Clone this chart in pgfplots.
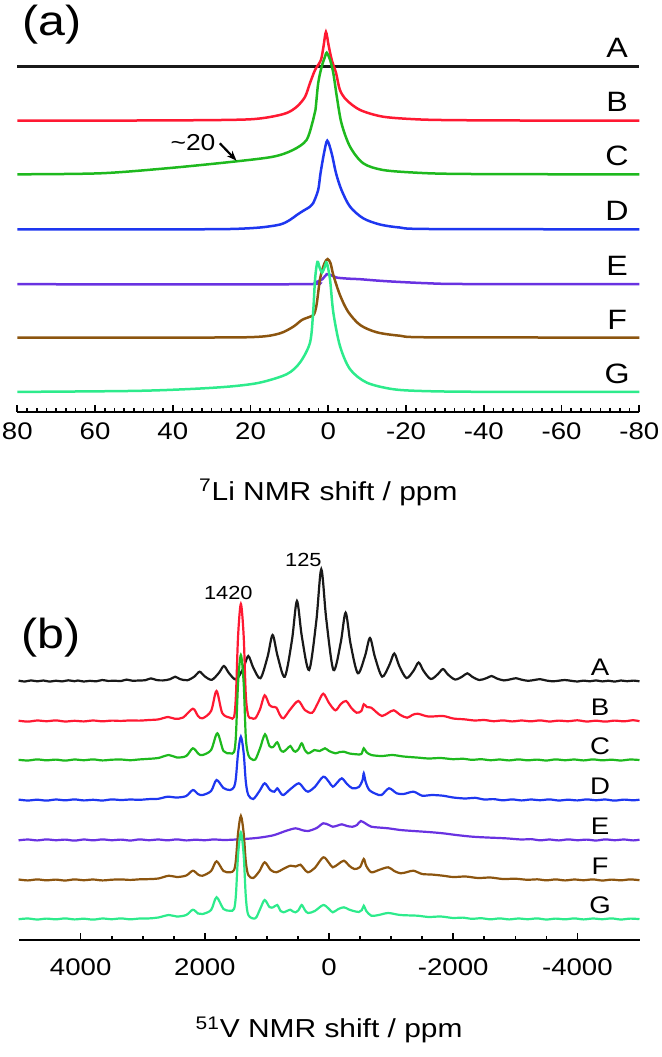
\documentclass[border=0pt]{standalone}
\usepackage{fontspec}
\setmainfont{Liberation Sans}[FakeStretch=1.15]
\usepackage{pgfplots}
\usepackage{pgfplotstable}
\pgfplotsset{compat=1.18}
\usetikzlibrary{arrows.meta}

\definecolor{cA}{RGB}{25,25,25}
\definecolor{cB}{RGB}{255,25,50}
\definecolor{cC}{RGB}{30,185,30}
\definecolor{cD}{RGB}{30,55,240}
\definecolor{cE}{RGB}{105,50,225}
\definecolor{cF}{RGB}{140,85,15}
\definecolor{cG}{RGB}{45,235,140}

% ---- 7Li spectra: ppm, height (px above own baseline)
\pgfplotstableread[row sep=\\]{x y\\ 80 0\\ -80 0\\}\liA
\pgfplotstableread[row sep=\\]{x y\\ 80 0\\ 50 0.2\\ 30 0.6\\ 20.1 1.4\\ 15 3.7\\ 10.7 7.7\\ 8.1 14\\ 6 23.7\\ 4.7 37.7\\ 3.4 50.7\\ 1.9 60.7\\ 1.2 75\\ 0.6 88.7\\ -0.1 75\\ -0.9 60.7\\ -2.0 47.7\\ -3.0 30.7\\ -4.7 20.7\\ -8.2 10.7\\ -14.1 4\\ -22.7 1.4\\ -31.3 0.6\\ -50 0.2\\ -80 0\\}\liB
\pgfplotstableread[row sep=\\]{x y\\ 80 0\\ 58.7 1\\ 41.6 6\\ 24.5 12.6\\ 14.2 17.6\\ 9.1 24.3\\ 5.6 34.3\\ 3.9 54.3\\ 3.3 64.3\\ 2.6 91\\ 1.7 107.6\\ 0.8 118\\ 0.4 121.6\\ -0.5 114\\ -1.3 101\\ -2.2 77.6\\ -3.4 51\\ -5.6 27.6\\ -9.0 11\\ -14.1 4.3\\ -22.7 1.6\\ -31.3 0.5\\ -50 0.1\\ -80 0\\}\liC
\pgfplotstableread[row sep=\\]{x y\\ 80 0\\ 40 0\\ 25.3 0.3\\ 17.6 1.8\\ 12.4 4.8\\ 9.9 9.3\\ 8.1 14.3\\ 6.4 18.6\\ 4.7 22.6\\ 3.9 26\\ 2.6 39.3\\ 2.0 56\\ 1.1 76\\ 0.26 88.6\\ -0.87 76\\ -2.0 56\\ -3.4 39.3\\ -5.6 22.6\\ -9.0 11\\ -13.3 4.8\\ -18.4 1.8\\ -26.2 0.3\\ -80 0\\}\liD
\pgfplotstableread[row sep=\\]{x y\\ 80 0\\ 8 0\\ 3.4 2\\ 1.5 5\\ 0.4 10\\ -1 8.5\\ -2.2 6.6\\ -5 5.6\\ -8.2 5\\ -12 3.8\\ -16.7 2.6\\ -25.3 1\\ -35 0.2\\ -80 0\\}\liE
\pgfplotstableread[row sep=\\]{x y\\ 80 0\\ 30 0\\ 17.6 0.8\\ 12.4 4.2\\ 9.0 10.8\\ 6.8 17.5\\ 4.7 20.8\\ 3.7 23\\ 3.0 33\\ 2.1 59\\ 1.0 74\\ 0.15 78.5\\ -0.6 74\\ -1.3 62.5\\ -3.0 42.5\\ -5.1 25.8\\ -8.2 12.5\\ -12.5 5.2\\ -18.4 1.8\\ -26.2 0.2\\ -80 0\\}\liF
\pgfplotstableread[row sep=\\]{x y\\ 80 0\\ 50 1\\ 35 3\\ 25 5.5\\ 17.6 9.3\\ 10.7 17.7\\ 7.3 29.3\\ 4.7 49.3\\ 3.9 79.3\\ 3.4 112.7\\ 2.8 130\\ 2.2 124\\ 1.6 119.3\\ 0.9 125\\ 0.4 129.3\\ -0.44 112.7\\ -1.3 79.3\\ -3.0 46\\ -5.6 22.7\\ -9.9 9.3\\ -16.7 2.7\\ -25 0.8\\ -40 0.1\\ -80 0\\}\liG

% ---- 51V spectra: ppm, height (px above own baseline)
\pgfplotstableread[row sep=\\]{x y\\
5000 0.4\\ 4900 -0.5\\ 4800 0.6\\ 4700 -0.3\\ 4600 0.5\\ 4500 -0.6\\ 4400 0.3\\ 4300 -0.4\\ 4200 0.7\\ 4100 -0.2\\ 4045 0.5\\ 3950 -0.5\\ 3850 0.2\\ 3750 -0.3\\ 3653 1.0\\ 3560 0.1\\ 3457 0.3\\ 3350 0.0\\ 3261 1.4\\ 3170 0.3\\ 3065 0.5\\ 2960 0.8\\ 2869 2.6\\ 2780 1.0\\ 2673 0.6\\ 2560 1.8\\ 2477 4.3\\ 2400 1.9\\ 2281 0.8\\ 2165 4.6\\ 2085 9.3\\ 2005 4.8\\ 1889 1.2\\ 1773 8.2\\ 1693 15\\ 1613 8\\ 1497 1.5\\ 1381 12.8\\ 1301 25\\ 1221 13.4\\ 1105 2.8\\ 989 24.5\\ 909 46\\ 829 25\\ 713 4.3\\ 597 41\\ 517 80\\ 437 44\\ 321 11\\ 205 60\\ 125 111.7\\ 45 62\\ -71 11\\ -187 38\\ -267 68.3\\ -347 37\\ -463 7.8\\ -579 25\\ -659 43\\ -739 24\\ -855 4.4\\ -971 16\\ -1051 27.5\\ -1131 15\\ -1247 3\\ -1363 10.5\\ -1443 18.5\\ -1523 10\\ -1639 2\\ -1755 7\\ -1835 12\\ -1915 6.5\\ -2031 1.5\\ -2147 4.5\\ -2227 7.7\\ -2307 4.2\\ -2423 1.0\\ -2540 3\\ -2619 5\\ -2700 2.6\\ -2815 0.6\\ -2930 1.8\\ -3011 2.8\\ -3090 1.5\\ -3207 0.2\\ -3320 1.2\\ -3403 1.8\\ -3490 0.6\\ -3600 -0.3\\ -3700 0.3\\ -3795 1.0\\ -3900 0.2\\ -4000 -0.5\\ -4100 0.4\\ -4200 -0.3\\ -4300 0.6\\ -4400 -0.4\\ -4500 0.3\\ -4600 -0.6\\ -4700 0.5\\ -4800 -0.2\\ -4900 0.4\\ -5000 -0.3\\}\vA
\pgfplotstableread[row sep=\\]{x y\\
5000 0.3\\ 4850 -0.6\\ 4700 0.5\\ 4550 -0.2\\ 4400 0.6\\ 4250 -0.5\\ 4100 0.2\\ 3950 -0.4\\ 3800 0.5\\ 3650 -0.3\\ 3500 0.4\\ 3350 0.1\\ 3200 0.6\\ 3050 0.4\\ 2900 1.0\\ 2750 1.6\\ 2593 4\\ 2480 2.2\\ 2350 3.5\\ 2193 12.3\\ 2110 5\\ 2037 2.7\\ 1900 10\\ 1812 30\\ 1720 8\\ 1594 3.3\\ 1530 4\\ 1500 25\\ 1465 85\\ 1420 117\\ 1375 85\\ 1340 25\\ 1300 5\\ 1250 3\\ 1187 2.7\\ 1110 12\\ 1037 25.7\\ 960 16\\ 900 14\\ 847 13.3\\ 790 6\\ 733 2.7\\ 620 12\\ 494 20\\ 390 11\\ 271 8.3\\ 180 18\\ 93 27.3\\ 0 18\\ -103 10.7\\ -190 17\\ -274 20\\ -360 13\\ -443 8.3\\ -520 10\\ -559 16.7\\ -610 14\\ -681 13.3\\ -760 9\\ -852 5\\ -950 8\\ -1042 10.7\\ -1150 6\\ -1259 3.3\\ -1340 6\\ -1428 7.3\\ -1600 4.5\\ -1836 5\\ -2000 2.5\\ -2176 1.7\\ -2350 0.5\\ -2500 1.0\\ -2650 -0.2\\ -2800 0.6\\ -2950 -0.4\\ -3100 0.5\\ -3250 -0.3\\ -3400 0.6\\ -3550 -0.5\\ -3700 0.4\\ -3850 -0.2\\ -4000 0.7\\ -4150 -0.5\\ -4300 0.3\\ -4450 -0.6\\ -4600 0.4\\ -4750 -0.3\\ -4900 0.8\\ -5000 -0.2\\}\vB
\pgfplotstableread[row sep=\\]{x y\\
5000 0.2\\ 4850 -0.5\\ 4700 0.6\\ 4550 -0.3\\ 4400 0.4\\ 4250 -0.6\\ 4100 0.5\\ 3950 -0.2\\ 3800 0.6\\ 3650 -0.4\\ 3500 0.3\\ 3350 0.5\\ 3200 -0.2\\ 3050 0.6\\ 2900 1.2\\ 2750 2\\ 2580 5\\ 2450 2.5\\ 2300 4\\ 2193 11.7\\ 2100 6\\ 2037 5\\ 1900 10\\ 1799 26.7\\ 1700 9\\ 1594 6.7\\ 1530 8\\ 1500 24\\ 1465 77\\ 1420 105\\ 1375 77\\ 1340 22\\ 1300 5\\ 1250 1\\ 1187 0.5\\ 1110 12\\ 1031 25.7\\ 960 14\\ 900 13\\ 834 17.7\\ 780 10\\ 733 8.3\\ 680 11\\ 623 14\\ 580 10\\ 541 8.3\\ 490 11\\ 440 16.7\\ 390 10\\ 338 6.7\\ 290 8\\ 237 10\\ 150 9\\ 66 11.7\\ 0 9\\ -103 6.7\\ -170 8\\ -240 8.3\\ -330 6.5\\ -443 5.7\\ -520 6\\ -559 11.7\\ -600 8\\ -681 5\\ -850 4\\ -1021 5\\ -1200 3.5\\ -1451 2.3\\ -1600 1.5\\ -1800 2\\ -2000 0.8\\ -2150 1.3\\ -2300 0.2\\ -2450 0.8\\ -2600 -0.2\\ -2750 0.5\\ -2900 -0.4\\ -3050 0.6\\ -3200 -0.3\\ -3350 0.4\\ -3500 -0.5\\ -3650 0.6\\ -3800 -0.2\\ -3950 0.5\\ -4100 -0.4\\ -4250 0.6\\ -4400 -0.3\\ -4550 0.3\\ -4700 -0.5\\ -4850 0.5\\ -5000 0\\}\vC
\pgfplotstableread[row sep=\\]{x y\\
5000 0.4\\ 4850 -0.5\\ 4700 0.3\\ 4550 -0.6\\ 4400 0.5\\ 4250 -0.3\\ 4100 0.6\\ 3950 -0.4\\ 3800 0.2\\ 3650 -0.5\\ 3500 0.6\\ 3350 0.0\\ 3200 0.5\\ 3050 0.2\\ 2900 0.9\\ 2750 1.2\\ 2600 3.3\\ 2450 2.5\\ 2300 4\\ 2193 10\\ 2110 6\\ 2037 5\\ 1900 9\\ 1812 20\\ 1700 12\\ 1594 10\\ 1530 13\\ 1500 22\\ 1465 47\\ 1420 63.3\\ 1375 47\\ 1340 18\\ 1300 5\\ 1221 1\\ 1120 9\\ 1037 16.7\\ 950 10\\ 880 8.3\\ 834 11.7\\ 780 7\\ 733 5\\ 620 11\\ 488 16.7\\ 400 11\\ 338 8.3\\ 230 13\\ 93 23.3\\ 0 18\\ -61 13.3\\ -140 18\\ -206 21.7\\ -290 16\\ -377 11.7\\ -480 13\\ -540 20\\ -559 26.7\\ -590 18\\ -648 10\\ -760 6\\ -846 5\\ -966 11.7\\ -1090 6.7\\ -1200 6\\ -1361 8.3\\ -1500 4.3\\ -1650 5\\ -1836 4.3\\ -2000 2.5\\ -2200 1.5\\ -2350 2.2\\ -2500 0.5\\ -2650 0.9\\ -2800 -0.3\\ -2950 0.6\\ -3100 -0.4\\ -3250 0.5\\ -3400 -0.2\\ -3550 0.6\\ -3700 -0.5\\ -3850 0.3\\ -4000 -0.4\\ -4150 0.6\\ -4300 -0.2\\ -4450 0.5\\ -4600 -0.6\\ -4750 0.4\\ -4900 -0.3\\ -5000 0.3\\}\vD
\pgfplotstableread[row sep=\\]{x y\\
5000 -0.3\\ 4850 0.5\\ 4700 -0.4\\ 4550 0.6\\ 4400 -0.2\\ 4250 0.4\\ 4100 -0.6\\ 3950 0.5\\ 3800 -0.3\\ 3650 0.6\\ 3500 -0.2\\ 3350 0.4\\ 3200 -0.5\\ 3050 0.6\\ 2900 -0.2\\ 2750 0.5\\ 2600 -0.3\\ 2450 0.6\\ 2300 -0.4\\ 2150 0.3\\ 2000 -0.2\\ 1850 0.6\\ 1700 0.0\\ 1500 0.5\\ 1221 1.7\\ 1050 3\\ 881 5\\ 700 9\\ 541 11.7\\ 440 10\\ 338 9\\ 200 12\\ 93 16.7\\ 0 15\\ -61 13.3\\ -140 14.5\\ -206 15.7\\ -290 14\\ -377 13.3\\ -450 15\\ -512 19\\ -600 16\\ -681 13.3\\ -800 12.5\\ -953 11.7\\ -1150 10\\ -1361 9\\ -1600 8\\ -1836 6.7\\ -2050 5\\ -2312 3.3\\ -2550 2.5\\ -2845 1.7\\ -3100 0.5\\ -3250 0.9\\ -3400 -0.3\\ -3550 0.5\\ -3700 -0.4\\ -3850 0.6\\ -4000 -0.2\\ -4150 0.4\\ -4300 -0.5\\ -4450 0.6\\ -4600 -0.2\\ -4750 0.5\\ -4900 -0.4\\ -5000 0.3\\}\vE
\pgfplotstableread[row sep=\\]{x y\\
5000 0.5\\ 4850 -0.4\\ 4700 0.6\\ 4550 -0.3\\ 4400 0.4\\ 4250 -0.5\\ 4100 0.6\\ 3950 -0.2\\ 3800 0.5\\ 3650 -0.4\\ 3500 0.3\\ 3350 0.6\\ 3200 0.1\\ 3050 0.7\\ 2900 0.9\\ 2750 1.5\\ 2580 4.3\\ 2450 3\\ 2300 4.5\\ 2193 9.3\\ 2110 5.5\\ 2037 4.3\\ 1900 9\\ 1812 18.7\\ 1700 9\\ 1594 7.7\\ 1530 10\\ 1500 20\\ 1465 47\\ 1420 64\\ 1375 47\\ 1340 18\\ 1300 5\\ 1221 2\\ 1120 9\\ 1037 17.7\\ 940 10\\ 847 7.7\\ 740 11\\ 623 14.3\\ 540 13.5\\ 461 15.3\\ 400 11\\ 338 7.7\\ 230 12\\ 93 22.7\\ 0 17\\ -61 12.7\\ -150 16\\ -240 19.3\\ -330 14\\ -410 11\\ -500 13\\ -559 21\\ -600 14\\ -681 7.7\\ -800 10\\ -953 12.7\\ -1050 9\\ -1154 6.7\\ -1260 8\\ -1361 9.3\\ -1500 6\\ -1650 5.5\\ -1836 4.3\\ -2000 3\\ -2200 3.5\\ -2400 2\\ -2600 2.5\\ -2800 1.0\\ -3000 1.3\\ -3200 0.2\\ -3350 0.7\\ -3500 -0.3\\ -3650 0.6\\ -3800 -0.4\\ -3950 0.5\\ -4100 -0.2\\ -4250 0.6\\ -4400 -0.5\\ -4550 0.4\\ -4700 -0.3\\ -4850 0.6\\ -5000 -0.2\\}\vF
\pgfplotstableread[row sep=\\]{x y\\
5000 -0.2\\ 4850 0.5\\ 4700 -0.5\\ 4550 0.4\\ 4400 -0.3\\ 4250 0.6\\ 4100 -0.4\\ 3950 0.3\\ 3800 -0.6\\ 3650 0.5\\ 3500 -0.2\\ 3350 0.6\\ 3200 -0.3\\ 3050 0.5\\ 2900 0.6\\ 2750 1.5\\ 2580 4\\ 2450 2.5\\ 2300 4\\ 2193 9.3\\ 2110 5.5\\ 2037 5\\ 1900 9\\ 1812 21.7\\ 1700 10\\ 1594 8.3\\ 1530 10\\ 1500 24\\ 1465 64\\ 1420 86.7\\ 1375 64\\ 1340 22\\ 1300 4\\ 1187 0.7\\ 1110 10\\ 1037 19\\ 960 12\\ 900 11.7\\ 834 14\\ 780 8\\ 733 6.7\\ 680 8\\ 623 9.3\\ 580 7.5\\ 541 6.7\\ 490 9\\ 440 14\\ 390 9\\ 338 6\\ 230 8\\ 93 14\\ 0 10\\ -61 6.7\\ -150 10\\ -240 11.7\\ -320 9.5\\ -377 8.3\\ -480 7\\ -530 9\\ -559 13.3\\ -600 8\\ -681 3.3\\ -800 4\\ -953 6\\ -1150 4\\ -1428 3.3\\ -1600 2\\ -1800 2.5\\ -2000 1\\ -2150 1.4\\ -2300 0.2\\ -2450 0.8\\ -2600 -0.3\\ -2750 0.6\\ -2900 -0.4\\ -3050 0.5\\ -3200 -0.2\\ -3350 0.6\\ -3500 -0.5\\ -3650 0.4\\ -3800 -0.3\\ -3950 0.6\\ -4100 -0.4\\ -4250 0.5\\ -4400 -0.2\\ -4550 0.6\\ -4700 -0.5\\ -4850 0.4\\ -5000 -0.1\\}\vG

\pgfplotsset{
  nmr/.style={
    scale only axis, anchor=south west, clip=false,
    x dir=reverse, ymin=0,
    axis x line=bottom, axis y line=none, ytick=\empty,
    x axis line style={-, line width=0.9pt},
    xtick align=inside,
    major tick length=3.5pt, minor tick length=1.8pt,
    every tick/.style={black, line width=0.8pt},
    tick label style={font=\fontsize{12}{14}\selectfont},
    /pgf/number format/assume math mode=true,
    /pgf/number format/1000 sep={},
    xlabel style={font=\fontsize{13}{15}\selectfont, at={(axis description cs:0.5,0)}, anchor=center},
  },
  tr/.style={line width=1.25pt, smooth, tension=0.5},
  trb/.style={line width=1.1pt, smooth, tension=0.5},
}
\tikzset{
  lab/.style={font=\fontsize{14}{16}\selectfont},
  labb/.style={font=\fontsize{12}{14}\selectfont},
}

\begin{document}
\begin{tikzpicture}
\path[use as bounding box] (0pt,0pt) rectangle (330.5pt,-528.5pt);

% (a) 7Li
\begin{axis}[nmr, at={(8.65pt,-205.85pt)}, width=311pt, height=190.85pt,
  xmin=-80, xmax=80, ymax=381.7,
  xtick={-80,-60,-40,-20,0,20,40,60,80}, minor x tick num=7,
  xticklabel style={yshift=-2.2pt},
  xlabel={\textsuperscript{7}Li NMR shift / ppm},
  xlabel style={yshift=-40.5pt}]
\addplot[tr, cA] table[x=x, y expr=\thisrow{y}+345] {\liA};
\addplot[tr, cB] table[x=x, y expr=\thisrow{y}+291] {\liB};
\addplot[tr, cC] table[x=x, y expr=\thisrow{y}+237.4] {\liC};
\addplot[tr, cD] table[x=x, y expr=\thisrow{y}+182.4] {\liD};
\addplot[tr, cE] table[x=x, y expr=\thisrow{y}+127.5] {\liE};
\addplot[tr, cF] table[x=x, y expr=\thisrow{y}+74.2] {\liF};
\addplot[tr, cG] table[x=x, y expr=\thisrow{y}+19.8] {\liG};
\node[lab] at (axis cs:-74.3,363.5) {A};
\node[lab] at (axis cs:-74.3,309.5) {B};
\node[lab] at (axis cs:-74.3,255.9) {C};
\node[lab] at (axis cs:-74.3,200.9) {D};
\node[lab] at (axis cs:-74.3,146.2) {E};
\node[lab] at (axis cs:-74.3,91.9) {F};
\node[lab] at (axis cs:-74.3,37.5) {G};
\node[font=\fontsize{21}{24}\selectfont] at (axis cs:71,386.7) {(a)};
\node[font=\fontsize{11.5}{13}\selectfont] at (axis cs:34.8,268.7) {\textasciitilde20};
\draw[-{Stealth[length=5pt]}, line width=1.1pt] (axis cs:27.9,268.4) -- (axis cs:23.6,251);
\end{axis}

% (b) 51V
\begin{axis}[nmr, at={(9.3pt,-470pt)}, width=310.45pt, height=197.5pt,
  xmin=-5000, xmax=5000, ymax=395,
  xtick={-4000,-2000,0,2000,4000}, minor x tick num=3,
  xticklabel style={yshift=-5.7pt},
  xlabel={\textsuperscript{51}V NMR shift / ppm},
  xlabel style={yshift=-45pt}]
\addplot[trb, cA] table[x=x, y expr=\thisrow{y}+259] {\vA};
\addplot[trb, cB] table[x=x, y expr=\thisrow{y}+219] {\vB};
\addplot[trb, cC] table[x=x, y expr=\thisrow{y}+180] {\vC};
\addplot[trb, cD] table[x=x, y expr=\thisrow{y}+140] {\vD};
\addplot[trb, cE] table[x=x, y expr=\thisrow{y}+100] {\vE};
\addplot[trb, cF] table[x=x, y expr=\thisrow{y}+60] {\vF};
\addplot[trb, cG] table[x=x, y expr=\thisrow{y}+21] {\vG};
\node[labb] at (axis cs:-4364,273) {A};
\node[labb] at (axis cs:-4364,233) {B};
\node[labb] at (axis cs:-4364,194) {C};
\node[labb] at (axis cs:-4364,154) {D};
\node[labb] at (axis cs:-4364,114) {E};
\node[labb] at (axis cs:-4364,74) {F};
\node[labb] at (axis cs:-4364,35) {G};
\node[font=\fontsize{21}{24}\selectfont] at (axis cs:4477,302) {(b)};
\node[font=\fontsize{9.5}{12}\selectfont] at (axis cs:1622,346.7) {1420};
\node[font=\fontsize{9.5}{12}\selectfont] at (axis cs:414,380) {125};
\end{axis}
\end{tikzpicture}
\end{document}
